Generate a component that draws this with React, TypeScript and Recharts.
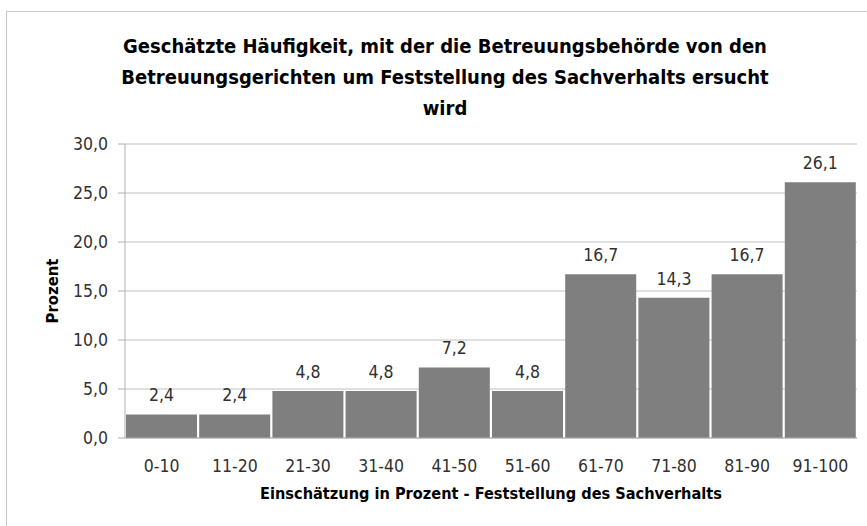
import { BarChart, Bar, XAxis, YAxis, CartesianGrid, LabelList } from "recharts";

const categories = ["0-10", "11-20", "21-30", "31-40", "41-50", "51-60", "61-70", "71-80", "81-90", "91-100"];
const percentValues = [2.4, 2.4, 4.8, 4.8, 7.2, 4.8, 16.7, 14.3, 16.7, 26.1];
const yTicks = [0, 5, 10, 15, 20, 25, 30];

const titleLines = [
  "Geschätzte Häufigkeit, mit der die Betreuungsbehörde von den",
  "Betreuungsgerichten um Feststellung des Sachverhalts ersucht",
  "wird",
];

const FONT = '"Liberation Sans Narrow", "DejaVu Sans Condensed", "Open Sans", sans-serif';
const TEXT = "#303030";

const fmt = (v: number) => v.toFixed(1).replace(".", ",");

export default function App() {
  const data = categories.map((c, i) => ({ range: c, value: percentValues[i] }));

  return (
    <div style={{ position: "absolute", left: 0, top: 0, width: 867, height: 526, overflow: "hidden", background: "#fff", fontFamily: FONT }}>
      {/* chart frame, runs off the right and bottom edge like the original */}
      <div style={{ position: "absolute", left: 6, top: 11, width: 900, height: 600, border: "1px solid #c8c8c8" }} />

      <div style={{ position: "absolute", left: 0, top: 31, width: 890, textAlign: "center", fontWeight: "bold", fontSize: 20, lineHeight: "31px", color: "#000" }}>
        {titleLines.map((l) => (
          <div key={l}>{l}</div>
        ))}
      </div>

      <BarChart
        width={867}
        height={526}
        data={data}
        margin={{ top: 144, right: 10, left: 0, bottom: 58 }}
        barCategoryGap={1}
        style={{ position: "absolute", left: 0, top: 0 }}
      >
        <CartesianGrid vertical={false} stroke="#c0c0c0" />
        <XAxis
          dataKey="range"
          height={30}
          axisLine={{ stroke: "#b0b0b0" }}
          tickLine={false}
          tickSize={0}
          tickMargin={0}
          interval={0}
          tick={({ x, y, payload }: any) => (
            <text x={x} y={y + 34} textAnchor="middle" fontSize={17.5} fill={TEXT} fontFamily={FONT}>
              {payload.value}
            </text>
          )}
        />
        <YAxis
          width={125}
          domain={[0, 30]}
          ticks={yTicks}
          interval={0}
          axisLine={{ stroke: "#b0b0b0" }}
          tickLine={{ stroke: "#b0b0b0" }}
          tickSize={7}
          tick={({ y, payload }: any) => (
            <text x={108} y={y + 6} textAnchor="end" fontSize={17.5} fill={TEXT} fontFamily={FONT}>
              {fmt(payload.value)}
            </text>
          )}
        />
        <Bar dataKey="value" fill="#7f7f7f" isAnimationActive={false}>
          <LabelList
            dataKey="value"
            position="top"
            offset={13}
            formatter={(v: any) => fmt(Number(v))}
            style={{ fontSize: 17.5, fill: TEXT, fontFamily: FONT }}
          />
        </Bar>
      </BarChart>

      <div style={{ position: "absolute", left: 52, top: 291, transform: "translate(-50%, -50%) rotate(-90deg)", fontWeight: "bold", fontSize: 16.5, color: "#000", whiteSpace: "nowrap" }}>
        Prozent
      </div>
      <div style={{ position: "absolute", left: 125, top: 484, width: 732, textAlign: "center", fontWeight: "bold", fontSize: 16.2, color: "#000" }}>
        Einschätzung in Prozent - Feststellung des Sachverhalts
      </div>
    </div>
  );
}
